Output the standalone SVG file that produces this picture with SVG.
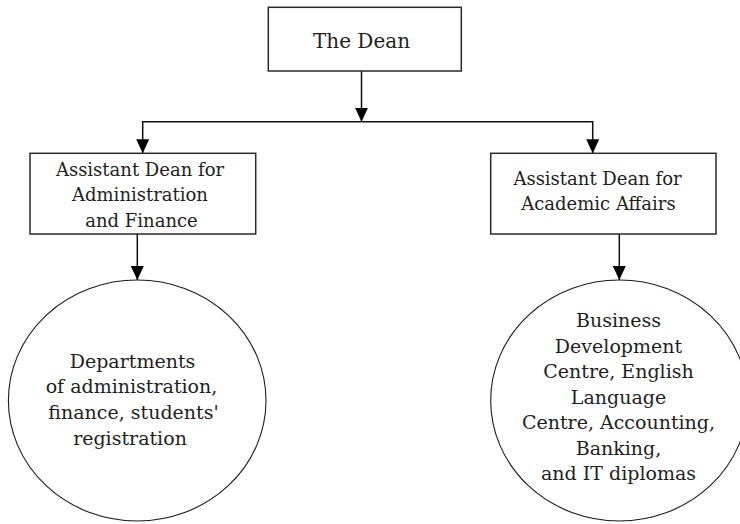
<svg xmlns="http://www.w3.org/2000/svg" width="740" height="524" viewBox="0 0 740 524">
  <style>
    .box { fill: #ffffff; stroke: #2a2a2a; stroke-width: 1.5; }
    .circ { fill: #ffffff; stroke: #1a1a1a; stroke-width: 1.1; }
    .conn { fill: none; stroke: #111111; stroke-width: 1.5; }
    text { font-family: "DejaVu Serif", "Liberation Serif", serif; fill: #1e1e1e; text-anchor: middle; }
    .t-dean { font-size: 20px; }
    .t-box { font-size: 18px; }
    .t-circ { font-size: 19px; }
  </style>
  <defs>
    <marker id="arrow" markerUnits="userSpaceOnUse" markerWidth="14" markerHeight="13" refX="14" refY="6.5" orient="auto">
      <path d="M0,0 L14,6.5 L0,13 Z" fill="#000000"/>
    </marker>
  </defs>
  <rect width="740" height="524" fill="#ffffff"/>

  <g id="connectors">
    <line class="conn" x1="361.5" y1="71" x2="361.5" y2="121.7" marker-end="url(#arrow)"/>
    <path class="conn" d="M361.5,121.7 H142.7 V153.3" marker-end="url(#arrow)"/>
    <path class="conn" d="M361.5,121.7 H592.7 V153.3" marker-end="url(#arrow)"/>
    <line class="conn" x1="137.3" y1="234" x2="137.3" y2="280" marker-end="url(#arrow)"/>
    <line class="conn" x1="619.3" y1="234" x2="619.3" y2="280" marker-end="url(#arrow)"/>
  </g>

  <g id="dean">
    <rect class="box" x="268.3" y="7.3" width="193" height="63.7"/>
    <text class="t-dean" x="361.5" y="48">The Dean</text>
  </g>

  <g id="ad-admin">
    <rect class="box" x="30" y="153.3" width="225.7" height="80.7"/>
    <text class="t-box" x="140" y="175.7">Assistant Dean for</text>
    <text class="t-box" x="140" y="201">Administration</text>
    <text class="t-box" x="141.5" y="226.7">and Finance</text>
  </g>

  <g id="ad-academic">
    <rect class="box" x="490.7" y="153.3" width="225.3" height="80.7"/>
    <text class="t-box" x="597.5" y="185">Assistant Dean for</text>
    <text class="t-box" x="598.5" y="210">Academic Affairs</text>
  </g>

  <g id="departments">
    <ellipse class="circ" cx="137.2" cy="400.5" rx="128.8" ry="120.5"/>
    <text class="t-circ" x="132.5" y="367.7">Departments</text>
    <text class="t-circ" x="131.5" y="393.3">of administration,</text>
    <text class="t-circ" x="133.5" y="419.3">finance, students'</text>
    <text class="t-circ" x="130" y="444.8">registration</text>
  </g>

  <g id="academic-units">
    <ellipse class="circ" cx="619.3" cy="400.5" rx="128.6" ry="120.5"/>
    <text class="t-circ" x="618.5" y="327">Business</text>
    <text class="t-circ" x="618.5" y="352.5">Development</text>
    <text class="t-circ" x="618.5" y="378">Centre, English</text>
    <text class="t-circ" x="618.5" y="403.5">Language</text>
    <text class="t-circ" x="618.5" y="429">Centre, Accounting,</text>
    <text class="t-circ" x="618.5" y="454.5">Banking,</text>
    <text class="t-circ" x="618.5" y="480">and IT diplomas</text>
  </g>
</svg>
